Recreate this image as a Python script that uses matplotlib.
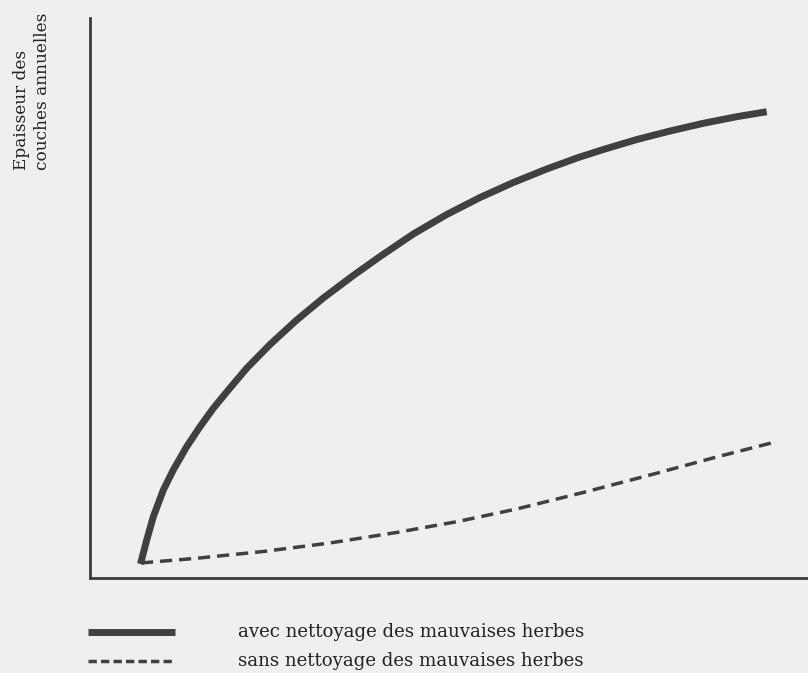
import matplotlib.pyplot as plt
from matplotlib.lines import Line2D

# solid curve: avec nettoyage
x_avec = [7.03, 7.90, 8.82, 10.21, 11.60, 13.47, 15.32, 17.17, 19.15, 21.82, 25.07, 28.79,
          32.49, 36.67, 40.39, 45.03, 49.68, 54.32, 58.96, 63.61, 68.01, 71.49, 76.14,
          80.78, 85.42, 90.07, 94.25]
y_avec = [2.50, 6.79, 10.95, 15.71, 19.29, 23.45, 27.02, 30.30, 33.39, 37.45, 41.70, 46.07,
          50.0, 54.02, 57.41, 61.43, 64.91, 67.95, 70.63, 73.04, 75.09, 76.52, 78.30,
          79.82, 81.20, 82.38, 83.27]

# dashed curve: sans nettoyage
x_sans = [7.10, 14.86, 24.14, 33.43, 42.72, 51.25, 59.43, 68.70, 78.0, 87.28, 95.17]
y_sans = [2.68, 3.52, 4.73, 6.25, 8.13, 10.09, 12.32, 15.27, 18.39, 21.61, 24.20]

ylabel = "Epaisseur des\ncouches annuelles"
leg_avec = "avec nettoyage des mauvaises herbes"
leg_sans = "sans nettoyage des mauvaises herbes"

bg = "#efefed"
ink = "#404040"
serif = ["DejaVu Serif"]

fig = plt.figure(figsize=(8.08, 6.73), dpi=100, facecolor=bg)
ax = fig.add_axes([0.1114, 0.1412, 0.8886, 0.832])
ax.set_facecolor(bg)

ax.plot(x_avec, y_avec, color=ink, lw=5, solid_capstyle="butt", solid_joinstyle="round")
ax.plot(x_sans, y_sans, color=ink, lw=2.5, dashes=(3.5, 2))

ax.set_xlim(0, 100)
ax.set_ylim(0, 100)
for s in ["top", "right"]:
    ax.spines[s].set_visible(False)
for s in ["left", "bottom"]:
    ax.spines[s].set_linewidth(2)
    ax.spines[s].set_color("#3a3a3a")
ax.set_xticks([])
ax.set_yticks([])

fig.text(0.0396, 0.747, ylabel, rotation=90, ha="center", va="bottom",
         multialignment="left", family=serif, fontsize=12.2, color="#222222",
         linespacing=1.25)

# legend drawn by hand
fig.add_artist(Line2D([0.109, 0.216], [0.061, 0.061], transform=fig.transFigure,
                      color=ink, lw=5, solid_capstyle="butt"))
fig.add_artist(Line2D([0.109, 0.216], [0.018, 0.018], transform=fig.transFigure,
                      color=ink, lw=2.5, dashes=(2.4, 1.2)))
fig.text(0.294, 0.061, leg_avec, ha="left", va="center", family=serif, fontsize=13.1, color="#222222")
fig.text(0.294, 0.018, leg_sans, ha="left", va="center", family=serif, fontsize=13.1, color="#222222")

fig.savefig("out.png", dpi=100, facecolor=bg)
